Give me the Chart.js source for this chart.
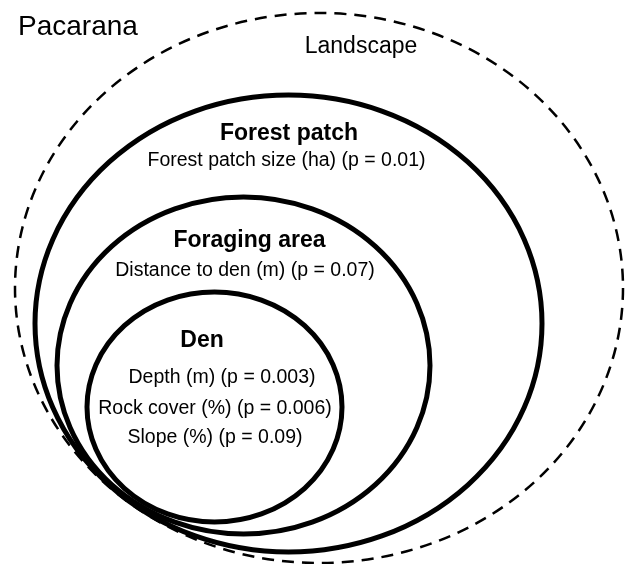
<!DOCTYPE html>
<html>
<head>
<meta charset="utf-8">
<script src="https://cdn.jsdelivr.net/npm/chart.js@4"></script>
<style>
  html, body { margin: 0; padding: 0; background: #fff; }
  #wrap { width: 625px; height: 564px; }
</style>
</head>
<body>
<div id="wrap"><canvas id="c"></canvas></div>
<script>
// nested scales, outermost first (diagram units, y grows downward)
var scaleNames = ['Landscape', 'Forest patch', 'Foraging area', 'Den'];
var centerX    = [319, 288.5, 243.5, 214.5];
var centerY    = [288, 323.5, 365.5, 407];
var radiusX    = [304, 253.5, 186.5, 127.5];
var radiusY    = [275, 228.5, 168.5, 115];
var dashed     = [true, false, false, false];

// significant variables per scale
var variables = [
  [],
  ['Forest patch size (ha) (p = 0.01)'],
  ['Distance to den (m) (p = 0.07)'],
  ['Depth (m) (p = 0.003)', 'Rock cover (%) (p = 0.006)', 'Slope (%) (p = 0.09)']
];
var species = 'Pacarana';

// text placement (x = centre, y = baseline), kept apart from the data
var FONT = "'Liberation Sans', Arial, Helvetica, sans-serif";
var titlePos = [[361, 53], [289, 140], [249.5, 247], [202, 347]];
var varPos = [
  [],
  [[286.5, 166]],
  [[245, 276]],
  [[222, 383], [215, 414], [215, 443]]
];

var ellipses = {
  id: 'ellipses',
  afterDatasetsDraw: function (chart) {
    var ctx = chart.ctx, xs = chart.scales.x, ys = chart.scales.y;
    ctx.save();
    ctx.strokeStyle = '#000';
    for (var i = 0; i < scaleNames.length; i++) {
      var px = xs.getPixelForValue(centerX[i]);
      var py = ys.getPixelForValue(centerY[i]);
      var rx = Math.abs(xs.getPixelForValue(centerX[i] + radiusX[i]) - px);
      var ry = Math.abs(ys.getPixelForValue(centerY[i] + radiusY[i]) - py);
      ctx.beginPath();
      ctx.ellipse(px, py, rx, ry, 0, 0, Math.PI * 2);
      if (dashed[i]) {
        ctx.setLineDash([12, 8]);
        ctx.lineWidth = 2.5;
      } else {
        ctx.setLineDash([]);
        ctx.lineWidth = 5;
      }
      ctx.stroke();
    }
    ctx.restore();
  }
};

var labels = {
  id: 'labels',
  afterDraw: function (chart) {
    var ctx = chart.ctx, xs = chart.scales.x, ys = chart.scales.y;
    ctx.save();
    ctx.fillStyle = '#000';
    ctx.textBaseline = 'alphabetic';

    ctx.textAlign = 'left';
    ctx.font = '28px ' + FONT;
    ctx.fillText(species, xs.getPixelForValue(18), ys.getPixelForValue(35));

    ctx.textAlign = 'center';
    for (var i = 0; i < scaleNames.length; i++) {
      ctx.font = (i === 0 ? '23px ' : 'bold 23px ') + FONT;
      ctx.fillText(scaleNames[i], xs.getPixelForValue(titlePos[i][0]), ys.getPixelForValue(titlePos[i][1]));
      ctx.font = '19.5px ' + FONT;
      for (var j = 0; j < variables[i].length; j++) {
        ctx.fillText(variables[i][j], xs.getPixelForValue(varPos[i][j][0]), ys.getPixelForValue(varPos[i][j][1]));
      }
    }
    ctx.restore();
  }
};

new Chart(document.getElementById('c'), {
  type: 'scatter',
  data: {
    datasets: [{
      label: 'centres',
      data: centerX.map(function (x, i) { return { x: x, y: centerY[i] }; }),
      pointRadius: 0
    }]
  },
  options: {
    responsive: true,
    maintainAspectRatio: false,
    animation: false,
    layout: { padding: 0 },
    plugins: { legend: { display: false }, tooltip: { enabled: false } },
    scales: {
      x: { type: 'linear', min: 0, max: 625, display: false },
      y: { type: 'linear', min: 0, max: 564, reverse: true, display: false }
    }
  },
  plugins: [ellipses, labels]
});
</script>
</body>
</html>
